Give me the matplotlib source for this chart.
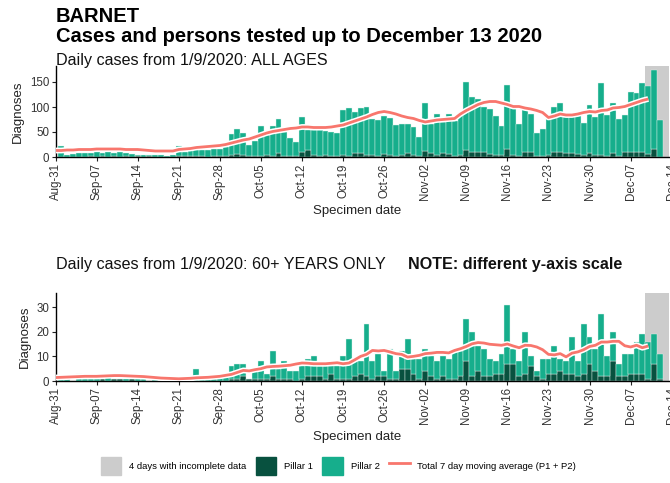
import matplotlib
matplotlib.use('Agg')
import matplotlib.pyplot as plt
import matplotlib.dates as mdates
import matplotlib.patheffects as pe
from matplotlib.patches import Patch
from matplotlib.lines import Line2D
import pandas as pd

plt.rcParams['font.family'] = ['Liberation Sans', 'DejaVu Sans']

# daily dates of the bars (1 Sep - 12 Dec 2020) and of the moving average line
dates = pd.date_range('2020-09-01', '2020-12-12')
ma_dates = pd.date_range('2020-08-31', '2020-12-10')
week_ticks = pd.date_range('2020-08-31', '2020-12-14', freq='7D')

# all ages: total diagnoses per day and pillar 1 part
all_total = [23, 5, 6, 8, 9, 9, 10, 9, 10, 9, 10, 9, 6, 5, 5, 5, 4, 4, 3, 4,
             23, 10, 21, 22, 14, 14, 16, 17, 20, 46, 56, 48, 24, 33, 62, 44, 62, 77, 50, 38,
             31, 81, 55, 55, 54, 53, 51, 49, 94, 98, 90, 99, 100, 77, 74, 82, 79, 64, 67, 67,
             60, 41, 109, 67, 86, 71, 86, 72, 88, 150, 120, 116, 101, 96, 82, 62, 145, 98, 67, 96,
             86, 48, 57, 82, 101, 109, 81, 84, 84, 69, 105, 81, 149, 84, 108, 76, 84, 130, 128, 149,
             143, 174, 74]
all_p1 = [1, 1, 0, 1, 1, 2, 1, 2, 1, 3, 1, 2, 1, 2, 1, 2, 1, 1, 1, 1,
          2, 3, 2, 3, 2, 1, 2, 2, 3, 4, 6, 5, 3, 2, 3, 4, 3, 8, 3, 2,
          3, 10, 14, 5, 3, 4, 3, 2, 5, 3, 8, 9, 5, 4, 3, 6, 4, 3, 5, 9,
          4, 3, 12, 8, 4, 8, 7, 3, 4, 15, 10, 10, 10, 6, 4, 5, 16, 5, 3, 10,
          10, 3, 2, 4, 10, 11, 9, 9, 6, 4, 9, 5, 4, 3, 8, 3, 10, 11, 11, 10,
          7, 16, 1]
all_ma = [13, 13, 14, 14, 15, 15, 15, 16, 16, 16, 16, 16, 15, 15, 15, 14, 13, 12, 12, 12,
          12, 15, 16, 17, 19, 20, 21, 22, 23, 25, 28, 31, 34, 36, 40, 44, 48, 51, 53, 55,
          57, 58, 60, 60, 59, 59, 59, 60, 62, 64, 68, 72, 76, 80, 85, 89, 91, 89, 86, 82,
          79, 77, 73, 70, 72, 74, 75, 76, 77, 86, 93, 99, 105, 109, 111, 111, 108, 105, 101, 101,
          98, 96, 93, 89, 79, 82, 86, 84, 84, 86, 89, 91, 90, 93, 94, 98, 99, 101, 105, 109,
          113, 116]

# 60+ years: total diagnoses per day and pillar 1 part
old_total = [1, 1, 0, 3, 1, 1, 1, 1, 2, 1, 1, 1, 1, 1, 1, 0, 1, 0, 1, 0,
             1, 0, 1, 5, 1, 1, 1, 2, 2, 6, 7, 7, 1, 4, 8, 3, 12, 5, 8, 4,
             4, 6, 9, 10, 6, 6, 6, 6, 10, 17, 8, 8, 23, 8, 11, 4, 13, 4, 12, 17,
             9, 9, 13, 10, 8, 10, 9, 13, 12, 25, 20, 14, 13, 9, 8, 11, 31, 13, 8, 20,
             10, 4, 9, 9, 14, 9, 8, 18, 8, 23, 18, 13, 27, 10, 20, 7, 11, 11, 16, 19,
             16, 19, 11]
old_p1 = [0, 0, 0, 0, 0, 0, 0, 1, 0, 1, 1, 0, 1, 0, 0, 0, 0, 0, 0, 0,
          0, 0, 0, 0, 0, 0, 0, 0, 0, 1, 1, 2, 1, 1, 1, 1, 2, 1, 1, 1,
          0, 1, 2, 2, 2, 1, 3, 1, 1, 1, 2, 3, 2, 1, 2, 2, 1, 1, 5, 5,
          3, 1, 4, 2, 1, 2, 1, 1, 2, 8, 2, 4, 2, 2, 3, 3, 7, 7, 2, 3,
          6, 2, 1, 3, 3, 4, 3, 3, 2, 3, 7, 4, 2, 2, 8, 2, 2, 3, 3, 3,
          1, 7, 1]
old_ma = [1.4, 1.5, 1.6, 1.7, 1.8, 1.9, 1.9, 1.9, 2.0, 2.1, 2.2, 2.2, 2.1, 2.0, 1.9, 1.8, 1.6, 1.4, 1.2, 1.1,
          1.0, 0.9, 1.0, 1.1, 1.3, 1.4, 1.5, 1.7, 1.9, 2.3, 2.7, 3.5, 4.3, 4.1, 4.6, 5.0, 5.7, 5.9, 6.0, 6.2,
          6.4, 6.9, 7.3, 7.2, 7.0, 7.0, 7.0, 7.2, 7.4, 7.0, 7.3, 8.6, 10.0, 10.8, 12.4, 12.2, 12.4, 11.8, 11.1, 10.8,
          9.7, 10.0, 10.4, 11.1, 11.3, 11.6, 11.6, 11.4, 12.4, 13.1, 14.0, 15.1, 15.6, 15.4, 14.9, 14.7, 14.5, 15.0, 14.2, 13.5,
          14.5, 14.4, 13.8, 12.7, 10.8, 10.6, 11.1, 9.8, 11.3, 11.8, 12.7, 14.0, 14.5, 15.8, 15.8, 16.1, 16.1, 14.3, 13.8, 14.5,
          13.5, 14.2]

C_P1 = '#08513f'
C_P2 = '#16ae8c'
C_MA = '#f8766d'
C_GREY = '#cccccc'

fig = plt.figure(figsize=(6.7, 4.83), dpi=100)
W, H = 670.0, 483.0


def panel(top_px, bottom_px, total, p1, ma, ymax, yticks, xlabel_px):
    left = 55.5 / W
    right_px = 56 + 5.864 * 106
    ax = fig.add_axes([left, 1 - bottom_px / H, (right_px - 55.5) / W, (bottom_px - top_px) / H])
    p2 = [t - a for t, a in zip(total, p1)]
    ax.axvspan(pd.Timestamp('2020-12-09 12:00'), pd.Timestamp('2020-12-13 12:00'),
               color=C_GREY, lw=0, zorder=0)
    ax.bar(dates, p1, width=1.0, color=C_P1, edgecolor='#dff2ec', linewidth=0.3, zorder=2)
    ax.bar(dates, p2, bottom=p1, width=1.0, color=C_P2, edgecolor='#dff2ec', linewidth=0.3, zorder=2)
    ax.plot(ma_dates, ma, color=C_MA, lw=2.0, zorder=3, solid_capstyle='butt',
            path_effects=[pe.Stroke(linewidth=4.2, foreground='white'), pe.Normal()])
    ax.set_xlim(pd.Timestamp('2020-08-31'), pd.Timestamp('2020-08-31') + pd.Timedelta(days=106))
    ax.set_ylim(0, ymax)
    ax.set_yticks(yticks)
    ax.set_xticks(week_ticks)
    ax.xaxis.set_major_formatter(mdates.DateFormatter('%b-%d'))
    for lab in ax.get_xticklabels():
        lab.set_rotation(90)
    ax.tick_params(axis='both', labelsize=8.3, colors='#222222', length=3, width=0.8, pad=1.5)
    ax.tick_params(axis='both', labelcolor='#333333')
    for s in ['top', 'right']:
        ax.spines[s].set_visible(False)
    for s in ['left', 'bottom']:
        ax.spines[s].set_linewidth(1.0)
    ax.set_ylabel('Diagnoses', fontsize=9.5, color='#222222', labelpad=4)
    fig.text(357 / W, 1 - xlabel_px / H, 'Specimen date', fontsize=9.5, color='#222222',
             ha='center', va='center')
    return ax


ax1 = panel(66, 157, all_total, all_p1, all_ma, 182, [0, 50, 100, 150], 211)
ax2 = panel(293, 381, old_total, old_p1, old_ma, 35.7, [0, 10, 20, 30], 437)

fig.text(56 / W, 1 - 16 / H, 'BARNET', fontsize=14.5, fontweight='bold', va='center')
fig.text(56 / W, 1 - 37 / H, 'Cases and persons tested up to December 13 2020',
         fontsize=14.5, fontweight='bold', va='center')
fig.text(56 / W, 1 - 60 / H, 'Daily cases from 1/9/2020: ALL AGES', fontsize=11.6, va='center',
         color='#111111')
fig.text(56 / W, 1 - 265 / H, 'Daily cases from 1/9/2020: 60+ YEARS ONLY', fontsize=11.6, va='center',
         color='#111111')
fig.text(408 / W, 1 - 265 / H, 'NOTE: different y-axis scale', fontsize=11.6, fontweight='bold',
         va='center', color='#111111')

handles = [Patch(color=C_GREY), Patch(color=C_P1), Patch(color=C_P2),
           Line2D([], [], color=C_MA, lw=2)]
labels = ['4 days with incomplete data', 'Pillar 1', 'Pillar 2',
          'Total 7 day moving average (P1 + P2)']
fig.legend(handles, labels, loc='center', bbox_to_anchor=(0.505, 1 - 466 / H), ncol=4,
           frameon=False, fontsize=6.8, handlelength=2.2, handleheight=2.5,
           columnspacing=1.0, handletextpad=0.8)

fig.savefig('out.png', dpi=100)
